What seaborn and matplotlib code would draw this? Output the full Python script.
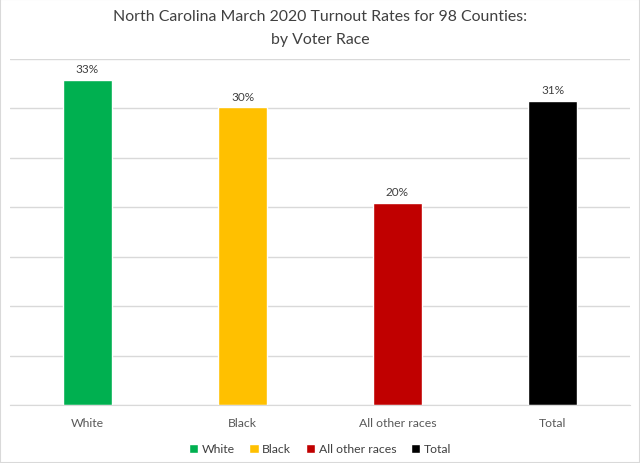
import matplotlib
matplotlib.use("Agg")
import matplotlib.pyplot as plt
import seaborn as sns
import pandas as pd
from matplotlib.patches import Patch

races = ["White", "Black", "All other races", "Total"]
turnout = [32.9, 30.1, 20.4, 30.8]
labels = ["33%", "30%", "20%", "31%"]
colors = ["#00B050", "#FFC000", "#C00000", "#000000"]

df = pd.DataFrame({"race": races, "turnout": turnout})

sns.set_style("white")
plt.rcParams["font.family"] = ["Lato", "DejaVu Sans"]

fig = plt.figure(figsize=(6.4, 4.64), dpi=100)
ax = fig.add_axes([10 / 640, 58 / 464, 620 / 640, 346 / 464])

sns.barplot(data=df, x="race", y="turnout", hue="race", palette=colors,
            width=0.31, legend=False, ax=ax, saturation=1)

ax.set_ylim(0, 35)
ax.set_yticks(range(0, 36, 5))
ax.yaxis.grid(True, color="#D9D9D9", linewidth=1)
ax.set_axisbelow(True)
ax.set_yticklabels([])
ax.tick_params(axis="both", length=0)
ax.tick_params(axis="x", labelsize=8.8, labelcolor="#595959", pad=9)
ax.set_xlabel("")
ax.set_ylabel("")
for s in ["top", "right", "left"]:
    ax.spines[s].set_visible(False)
ax.spines["bottom"].set_color("#D9D9D9")

for p, lab in zip(ax.patches, labels):
    ax.annotate(lab, (p.get_x() + p.get_width() / 2, p.get_height() + 0.6),
                ha="center", va="bottom", fontsize=8.5, color="#404040")

fig.text(0.5, 0.978, "North Carolina March 2020 Turnout Rates for 98 Counties:\nby Voter Race",
         ha="center", va="top", fontsize=11.4, color="#404040", linespacing=1.8)

handles = [Patch(facecolor=c, label=r) for c, r in zip(colors, races)]
fig.legend(handles=handles, loc="lower center", bbox_to_anchor=(0.5, -0.005), ncol=4,
           frameon=False, fontsize=8.8, handlelength=0.75, handleheight=0.75,
           handletextpad=0.3, columnspacing=1.2, labelcolor="#404040")

fig.patches.append(plt.Rectangle((0, 0), 1, 1, transform=fig.transFigure,
                                 fill=False, edgecolor="#D9D9D9", linewidth=1.5))

fig.savefig("out.png", dpi=100)
